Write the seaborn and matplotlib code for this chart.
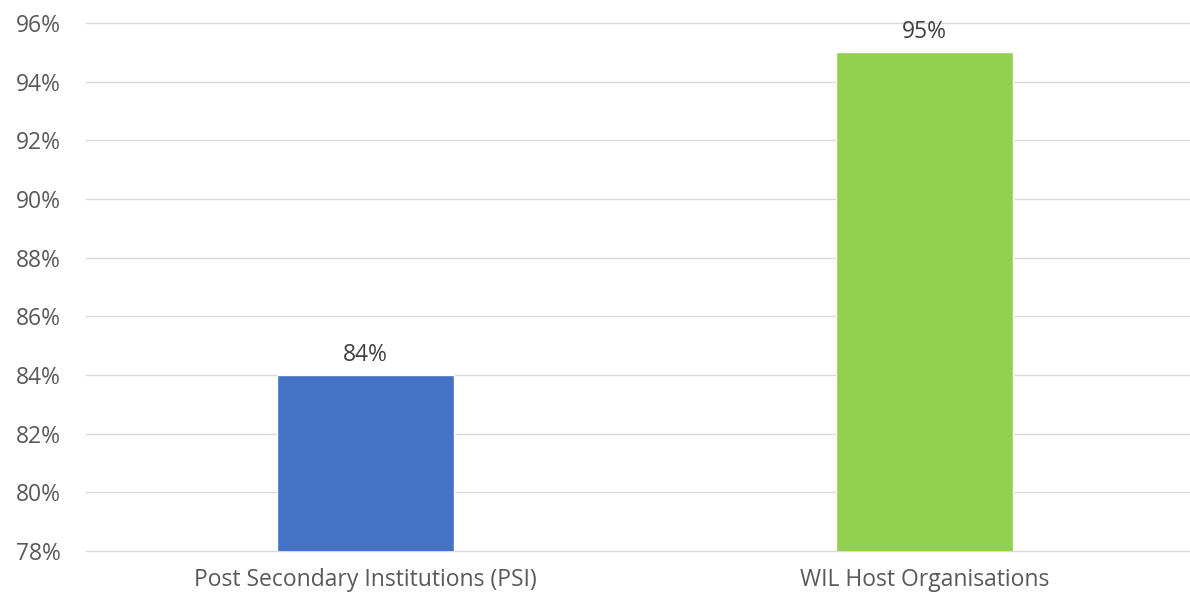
import matplotlib
matplotlib.use("Agg")
import matplotlib.pyplot as plt
import seaborn as sns
import pandas as pd
from matplotlib.ticker import FuncFormatter

categories = ["Post Secondary Institutions (PSI)", "WIL Host Organisations"]
values = [84, 95]
colors = ["#4472C4", "#92D050"]
y_ticks = [78, 80, 82, 84, 86, 88, 90, 92, 94, 96]

sns.set_style("white")
plt.rcParams['font.family'] = ['Open Sans', 'DejaVu Sans']

df = pd.DataFrame({"category": categories, "value": values})

fig = plt.figure(figsize=(11.9, 6), dpi=100)
ax = fig.add_axes([86 / 1190, 49 / 600, 1118 / 1190, 528 / 600])

sns.barplot(data=df, x="category", y="value", hue="category",
            palette=colors, width=0.315, saturation=1, legend=False,
            ax=ax, zorder=3)

ax.set_ylim(y_ticks[0], y_ticks[-1])
ax.set_yticks(y_ticks)
ax.yaxis.set_major_formatter(FuncFormatter(lambda v, _: f"{v:.0f}%"))
ax.grid(axis="y", color="#D9D9D9", lw=1, zorder=0)
ax.grid(axis="x", visible=False)
for line in ax.get_ygridlines():
    line.set_clip_on(False)
for s in ax.spines.values():
    s.set_visible(False)

ax.set_xlabel("")
ax.set_ylabel("")
ax.tick_params(axis="both", length=0, labelsize=16.5, labelcolor="#595959")
ax.tick_params(axis="y", pad=18)
ax.tick_params(axis="x", pad=12)

for cont in ax.containers:
    ax.bar_label(cont, fmt="%.0f%%", padding=6, fontsize=16.5, color="#404040")

fig.savefig("out.png", dpi=100)
